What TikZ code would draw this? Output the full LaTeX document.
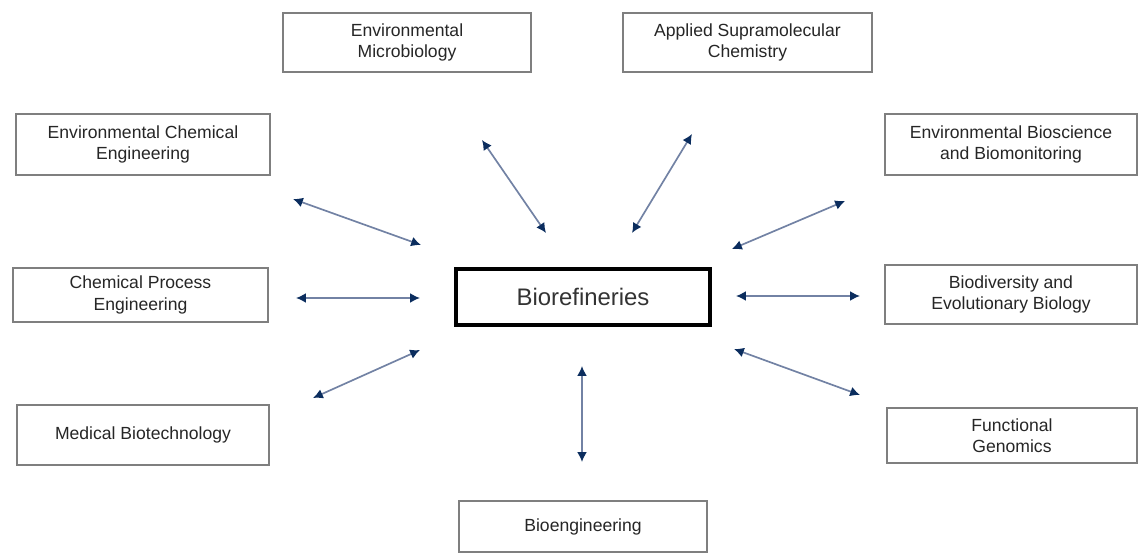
\documentclass[tikz,border=0pt]{standalone}
\usepackage{fontspec}
\setmainfont{Liberation Sans}
\usepackage{tikz}
\usetikzlibrary{arrows.meta}
\definecolor{linkline}{HTML}{7282A4}
\definecolor{linkhead}{HTML}{0B2D5E}
\definecolor{boxedge}{HTML}{7F7F7F}

\begin{document}
\begin{tikzpicture}[x=0.025cm, y=-0.025cm]
	\tikzstyle{field}=[rectangle, draw=boxedge, line width=1.4pt, fill=white,
	text centered, align=center, text=black!85, inner sep=0pt,
	font=\fontsize{12.5}{15}\selectfont]
	\tikzstyle{hub}=[rectangle, draw=black, line width=3pt, fill=white,
	text centered, text=black!80, inner sep=0pt,
	font=\fontsize{17}{20}\selectfont, minimum width=6.35cm, minimum height=1.4cm]
	\tikzstyle{link}=[draw=linkline, line width=1.2pt,
	{Latex[color=linkhead,length=7pt,width=7pt]}-{Latex[color=linkhead,length=7pt,width=7pt]}]
	\useasboundingbox (0,0) rectangle (1140,556);

	\node (Biorefineries) [hub] at (583,297) {Biorefineries};

	\node (EnvMicro) [field, minimum width=6.2cm, minimum height=1.475cm] at (407,42.5)
	{Environmental\\Microbiology};
	\node (Supramolecular) [field, minimum width=6.225cm, minimum height=1.475cm] at (747.5,42.5)
	{Applied Supramolecular\\Chemistry};
	\node (EnvChemEng) [field, minimum width=6.325cm, minimum height=1.525cm] at (143,144.5)
	{Environmental Chemical\\Engineering};
	\node (EnvBioscience) [field, minimum width=6.3cm, minimum height=1.525cm] at (1011,144.5)
	{Environmental Bioscience\\and Biomonitoring};
	\node (ChemProcess) [field, minimum width=6.375cm, minimum height=1.35cm] at (140.5,295)
	{Chemical Process\\Engineering};
	\node (Biodiversity) [field, minimum width=6.3cm, minimum height=1.475cm] at (1011,294.5)
	{Biodiversity and\\Evolutionary Biology};
	\node (MedBiotech) [field, minimum width=6.3cm, minimum height=1.5cm] at (143,435)
	{Medical Biotechnology};
	\node (FuncGenomics) [field, minimum width=6.25cm, minimum height=1.375cm] at (1012,435.5)
	{Functional\\Genomics};
	\node (Bioengineering) [field, minimum width=6.2cm, minimum height=1.275cm] at (583,526.5)
	{Bioengineering};

	\coordinate (envchem-a) at (293,199);
	\coordinate (envchem-b) at (421,245);
	\coordinate (envmicro-a) at (482,140);
	\coordinate (envmicro-b) at (546,233);
	\coordinate (supra-a) at (692,134);
	\coordinate (supra-b) at (632,233);
	\coordinate (envbio-a) at (845,201);
	\coordinate (envbio-b) at (732,249);
	\coordinate (chemproc-a) at (296,298);
	\coordinate (chemproc-b) at (420,298);
	\coordinate (biodiv-a) at (736,296);
	\coordinate (biodiv-b) at (860,296);
	\coordinate (medbio-a) at (420,350);
	\coordinate (medbio-b) at (313,398);
	\coordinate (funcgen-a) at (734,349);
	\coordinate (funcgen-b) at (860,395);
	\coordinate (bioeng-a) at (582,366);
	\coordinate (bioeng-b) at (582,462);

	\draw[link] (envchem-a) -- (envchem-b);
	\draw[link] (envmicro-a) -- (envmicro-b);
	\draw[link] (supra-a) -- (supra-b);
	\draw[link] (envbio-a) -- (envbio-b);
	\draw[link] (chemproc-a) -- (chemproc-b);
	\draw[link] (biodiv-a) -- (biodiv-b);
	\draw[link] (medbio-a) -- (medbio-b);
	\draw[link] (funcgen-a) -- (funcgen-b);
	\draw[link] (bioeng-a) -- (bioeng-b);
\end{tikzpicture}
\end{document}
